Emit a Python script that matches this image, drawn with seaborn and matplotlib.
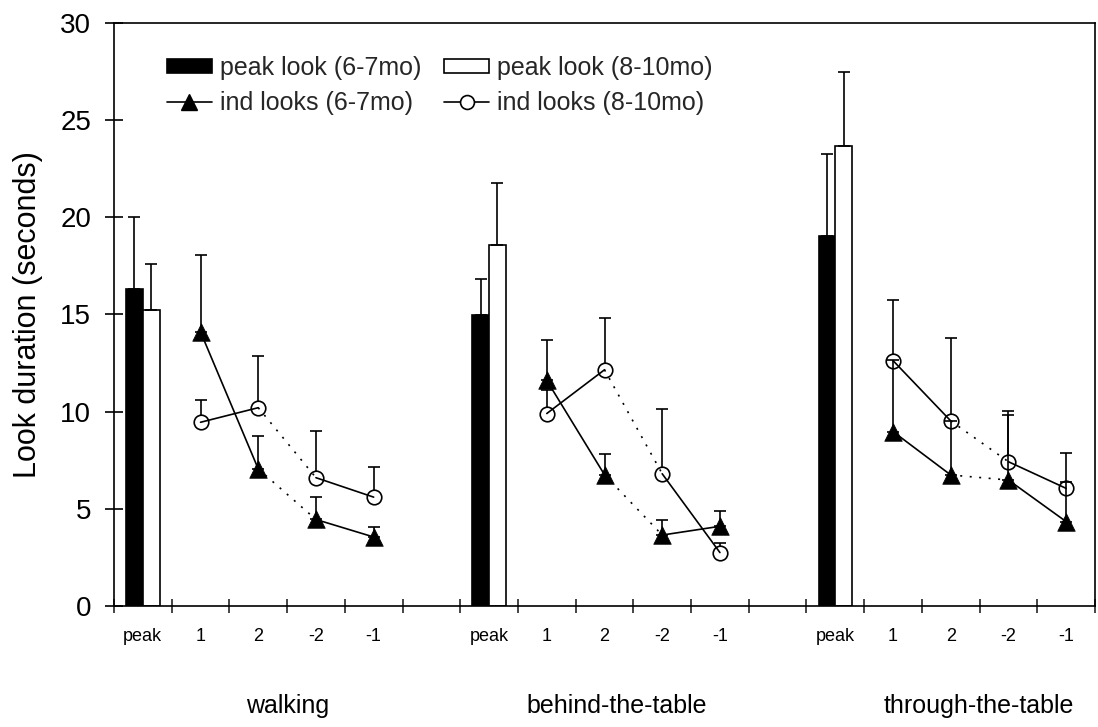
import numpy as np
import pandas as pd
import matplotlib
matplotlib.use("Agg")
import matplotlib.pyplot as plt
import seaborn as sns
from matplotlib.patches import Patch
from matplotlib.lines import Line2D
from matplotlib.transforms import blended_transform_factory

# ---------------- data ----------------
groups = ["walking", "behind-the-table", "through-the-table"]
slot_labels = ["peak", "1", "2", "-2", "-1"]
ages = ["6-7mo", "8-10mo"]

peak_67 = [16.3, 14.95, 19.05]
peak_67_err = [3.7, 1.85, 4.2]
peak_810 = [15.2, 18.55, 23.65]
peak_810_err = [2.4, 3.2, 3.8]

ind_67 = [[14.1, 7.05, 4.45, 3.55],
          [11.6, 6.75, 3.65, 4.1],
          [8.97, 6.74, 6.48, 4.34]]
ind_67_err = [[3.95, 1.7, 1.15, 0.5],
              [2.1, 1.05, 0.75, 0.8],
              [3.7, 2.8, 3.35, 2.05]]
ind_810 = [[9.45, 10.2, 6.6, 5.6],
           [9.9, 12.15, 6.8, 2.75],
           [12.62, 9.52, 7.42, 6.05]]
ind_810_err = [[1.15, 2.65, 2.4, 1.55],
               [1.2, 2.65, 3.35, 0.5],
               [3.1, 4.25, 2.6, 1.8]]

# ---------------- style ----------------
sns.set_theme(style="white")
plt.rcParams["font.family"] = ["Liberation Sans", "DejaVu Sans"]

fig = plt.figure(figsize=(10.98, 7.27), dpi=100)
ax = fig.add_axes([0.1038, 0.1664, 0.8935, 0.8024])

n_slots = 17
bar_width = 0.58
lw = 1.2

# ---------------- bars ----------------
bar_rows = []
for g in range(len(groups)):
    bar_rows.append({"slot": 6 * g, "val": peak_67[g], "age": ages[0]})
    bar_rows.append({"slot": 6 * g, "val": peak_810[g], "age": ages[1]})
bars = pd.DataFrame(bar_rows)

sns.barplot(data=bars, x="slot", y="val", hue="age", order=list(range(n_slots)),
            hue_order=ages, palette={ages[0]: "black", ages[1]: "white"},
            edgecolor="black", linewidth=lw, width=bar_width, dodge=True,
            errorbar=None, legend=False, ax=ax, zorder=2)

half = bar_width / 4
bx67 = [6 * g - half for g in range(3)]
bx810 = [6 * g + half for g in range(3)]
ax.errorbar(bx67, peak_67, yerr=[np.zeros(3), peak_67_err], fmt="none",
            ecolor="black", elinewidth=lw, capsize=4.2, capthick=lw, zorder=3)
ax.errorbar(bx810, peak_810, yerr=[np.zeros(3), peak_810_err], fmt="none",
            ecolor="black", elinewidth=lw, capsize=4.2, capthick=lw, zorder=3)

# ---------------- error bars of individual looks ----------------
for g in range(3):
    xs = [6 * g + k + 1 for k in range(4)]
    ax.errorbar(xs, ind_810[g], yerr=[np.zeros(4), ind_810_err[g]], fmt="none",
                ecolor="black", elinewidth=lw, capsize=4.2, capthick=lw, zorder=2.5)
    sns.scatterplot(x=xs, y=ind_810[g], marker="o", facecolor="white",
                    edgecolor="black", s=110, linewidth=lw, ax=ax, zorder=3,
                    legend=False)

# ---------------- lines ----------------
seg_rows = []
seg_id = 0
styles = ["solid", "dotted", "solid"]
for series in (ind_67, ind_810):
    for g in range(3):
        xs = [6 * g + k + 1 for k in range(4)]
        for k in range(3):
            for j in (k, k + 1):
                seg_rows.append({"x": xs[j], "y": series[g][j], "seg": seg_id,
                                 "ls": styles[k]})
            seg_id += 1
segs = pd.DataFrame(seg_rows)
sns.lineplot(data=segs, x="x", y="y", units="seg", estimator=None, style="ls",
             dashes={"solid": "", "dotted": (1.2, 4.5)}, color="black",
             linewidth=lw, sort=False, legend=False, ax=ax, zorder=3.5)

for g in range(3):
    xs = [6 * g + k + 1 for k in range(4)]
    ax.errorbar(xs, ind_67[g], yerr=[np.zeros(4), ind_67_err[g]], fmt="none",
                ecolor="black", elinewidth=lw, capsize=4.2, capthick=lw, zorder=3.6)
    sns.scatterplot(x=xs, y=ind_67[g], marker="^", color="black",
                    edgecolor="black", s=160, linewidth=0.5, ax=ax, zorder=4,
                    legend=False)

# ---------------- axes ----------------
ax.set_xlim(-0.5, n_slots - 0.5)
ax.set_ylim(0, 30)
ax.set_yticks(np.arange(0, 31, 5))
ax.set_ylabel("Look duration (seconds)", fontsize=22, color="black")
ax.yaxis.set_label_coords(-0.072, 0.5)
ax.set_xlabel("")

major = np.arange(-0.5, n_slots, 1.0)
ax.set_xticks(major)
ax.set_xticklabels([""] * len(major))
centers = [6 * g + k for g in range(3) for k in range(5)]
ax.set_xticks(centers, minor=True)
ax.set_xticklabels(slot_labels * 3, minor=True)

ax.tick_params(axis="y", which="major", direction="inout", length=13, width=lw,
               labelsize=20, colors="black", pad=10, left=True)
ax.tick_params(axis="x", which="major", direction="inout", length=10, width=lw,
               bottom=True)
ax.tick_params(axis="x", which="minor", length=0, labelsize=13, pad=16,
               labelcolor="black", bottom=True)

for sp in ax.spines.values():
    sp.set_visible(True)
    sp.set_color("black")
    sp.set_linewidth(lw)
ax.grid(False)

trans = blended_transform_factory(ax.transData, ax.transAxes)
group_x = [2.5, 8.21, 14.48]
for gx, name in zip(group_x, groups):
    ax.text(gx, -0.172, name, transform=trans, ha="center", va="center",
            fontsize=18, color="black")

# ---------------- legend ----------------
handles = [
    Patch(facecolor="black", edgecolor="black", linewidth=lw),
    Line2D([], [], color="black", lw=lw, marker="^", markersize=12),
    Patch(facecolor="white", edgecolor="black", linewidth=lw),
    Line2D([], [], color="black", lw=lw, marker="o", markersize=10,
           markerfacecolor="white", markeredgewidth=lw),
]
labels = ["peak look (6-7mo)", "ind looks (6-7mo)",
          "peak look (8-10mo)", "ind looks (8-10mo)"]
ax.legend(handles, labels, ncol=2, loc="upper left", bbox_to_anchor=(0.054, 0.943),
          frameon=False, fontsize=18, handlelength=1.8, handleheight=0.48,
          handletextpad=0.33, columnspacing=0.9, labelspacing=0.45,
          borderpad=0, borderaxespad=0)

fig.savefig("out.png", dpi=100)
